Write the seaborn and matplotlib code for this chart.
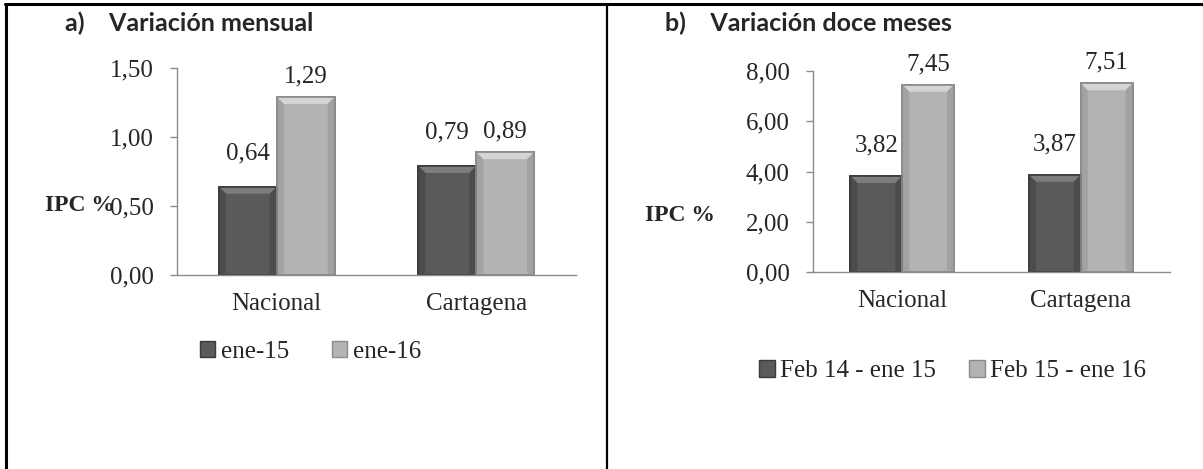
import matplotlib
matplotlib.use("Agg")
import matplotlib.pyplot as plt
import matplotlib.ticker as mticker
from matplotlib.lines import Line2D
from matplotlib.patches import Patch, Polygon
from matplotlib.transforms import IdentityTransform
import numpy as np
import pandas as pd
import seaborn as sns

# datos
ciudades = ["Nacional", "Cartagena"]
series_mensual = ["ene-15", "ene-16"]
mensual_ene15 = [0.64, 0.79]
mensual_ene16 = [1.29, 0.89]
series_anual = ["Feb 14 - ene 15", "Feb 15 - ene 16"]
anual_1415 = [3.82, 3.87]
anual_1516 = [7.45, 7.51]

oscuro, claro = "#5a5a5a", "#b3b3b3"
borde_osc, borde_cla = "#3a3a3a", "#8a8a8a"
# bisel: (arriba, lados, abajo)
bisel_osc = ("#7d7d7d", "#4c4c4c", "#444444")
bisel_cla = ("#d4d4d4", "#a2a2a2", "#989898")
gris = "#8c8c8c"
serif = "Liberation Serif"
FS = 18

sns.set_style("white")
plt.rcParams["font.family"] = [serif, "DejaVu Serif"]

W, H = 1203, 469
fig = plt.figure(figsize=(W / 100, H / 100), dpi=100)


def coma(v):
    return f"{v:.2f}".replace(".", ",")


def biselar(ax, p, cols, b=7):
    (x0, y0), (x1, y1) = ax.transData.transform(
        [(p.get_x(), p.get_y()), (p.get_x() + p.get_width(), p.get_y() + p.get_height())])
    arriba, lado, abajo = cols
    caras = [
        ([(x0, y1), (x1, y1), (x1 - b, y1 - b), (x0 + b, y1 - b)], arriba),
        ([(x0, y0), (x0, y1), (x0 + b, y1 - b), (x0 + b, y0 + 2)], lado),
        ([(x1, y0), (x1, y1), (x1 - b, y1 - b), (x1 - b, y0 + 2)], lado),
    ]
    for pts, c in caras:
        ax.add_patch(Polygon(pts, closed=True, facecolor=c, edgecolor="none",
                             transform=IdentityTransform(), zorder=p.get_zorder() + 0.1))
    ax.add_patch(Polygon([(x0, y0), (x1, y0), (x1, y1), (x0, y1)], closed=True,
                         facecolor="none", edgecolor=p.get_edgecolor(), lw=1.2,
                         transform=IdentityTransform(), zorder=p.get_zorder() + 0.2))


def panel(rect, serie_nombres, v1, v2, ymax, ystep, pads):
    ax = fig.add_axes(rect)
    df = pd.DataFrame({
        "ciudad": ciudades * 2,
        "serie": [serie_nombres[0]] * 2 + [serie_nombres[1]] * 2,
        "valor": list(v1) + list(v2),
    })
    sns.barplot(data=df, x="ciudad", y="valor", hue="serie",
                palette=[oscuro, claro], width=0.58, ax=ax,
                legend=False, saturation=1)
    ax.set_xlim(-0.5, 1.5)
    ax.set_ylim(0, ymax)
    for cont, ec, bis, pad in zip(ax.containers, [borde_osc, borde_cla],
                                  [bisel_osc, bisel_cla], pads):
        for p in cont:
            p.set_edgecolor(ec)
            p.set_linewidth(1.2)
            biselar(ax, p, bis)
        ax.bar_label(cont, labels=[coma(v) for v in cont.datavalues],
                     padding=pad, fontsize=FS)
    ax.set_yticks(np.arange(0, ymax + 0.001, ystep))
    ax.yaxis.set_major_formatter(mticker.FuncFormatter(lambda v, _: coma(v)))
    ax.set_xticks([0, 1])
    ax.set_xticklabels(ciudades)
    ax.set_xticks([-0.5, 0.5, 1.5], minor=True)
    ax.tick_params(axis="x", which="major", length=0, pad=13, labelsize=FS)
    ax.tick_params(axis="x", which="minor", length=5, color=gris, width=1)
    ax.tick_params(axis="y", length=5, color=gris, width=1, pad=12,
                   labelsize=FS, left=True)
    ax.set_xlabel("")
    ax.set_ylabel("")
    for s in ["top", "right"]:
        ax.spines[s].set_visible(False)
    for s in ["left", "bottom"]:
        ax.spines[s].set_color(gris)
        ax.spines[s].set_linewidth(1)
        ax.spines[s].set_zorder(5)
    return ax


ax1 = panel([177 / W, 1 - 275 / H, 399 / W, 207 / H],
            series_mensual, mensual_ene15, mensual_ene16, 1.5, 0.5, [16, 7])
ax2 = panel([813 / W, 1 - 272 / H, 357 / W, 201 / H],
            series_anual, anual_1415, anual_1516, 8, 2, [14, 7])

# leyendas
h = [Patch(facecolor=oscuro, edgecolor=borde_osc),
     Patch(facecolor=claro, edgecolor=borde_cla)]
fig.legend(h, series_mensual, loc="center left",
           bbox_to_anchor=(200 / W, 1 - 352 / H), ncol=2, frameon=False,
           fontsize=FS, handlelength=0.6, handleheight=0.6,
           handletextpad=0.25, columnspacing=1.7, borderpad=0,
           borderaxespad=0)
fig.legend(h, series_anual, loc="center left",
           bbox_to_anchor=(759 / W, 1 - 371 / H), ncol=2, frameon=False,
           fontsize=FS, handlelength=0.65, handleheight=0.65,
           handletextpad=0.2, columnspacing=1.3, borderpad=0,
           borderaxespad=0)

# titulos y etiquetas de eje
fig.text(65 / W, 1 - 31 / H, "a)    Variación mensual", family="Lato",
         weight="bold", fontsize=18, va="baseline")
fig.text(665 / W, 1 - 31 / H, "b)    Variación doce meses", family="Lato",
         weight="bold", fontsize=18, va="baseline")
fig.text(45 / W, 1 - 205 / H, "IPC %", weight="bold", fontsize=17,
         va="center")
fig.text(645 / W, 1 - 215 / H, "IPC %", weight="bold", fontsize=17,
         va="center")

# marco
fig.add_artist(Line2D([5 / W, 1], [1 - 4 / H] * 2, transform=fig.transFigure,
                      color="black", lw=2.2))
fig.add_artist(Line2D([6 / W] * 2, [0, 1 - 4 / H], transform=fig.transFigure,
                      color="black", lw=2.2))
fig.add_artist(Line2D([607 / W] * 2, [0, 1 - 4 / H], transform=fig.transFigure,
                      color="black", lw=1.6))

fig.savefig("out.png", dpi=100)
